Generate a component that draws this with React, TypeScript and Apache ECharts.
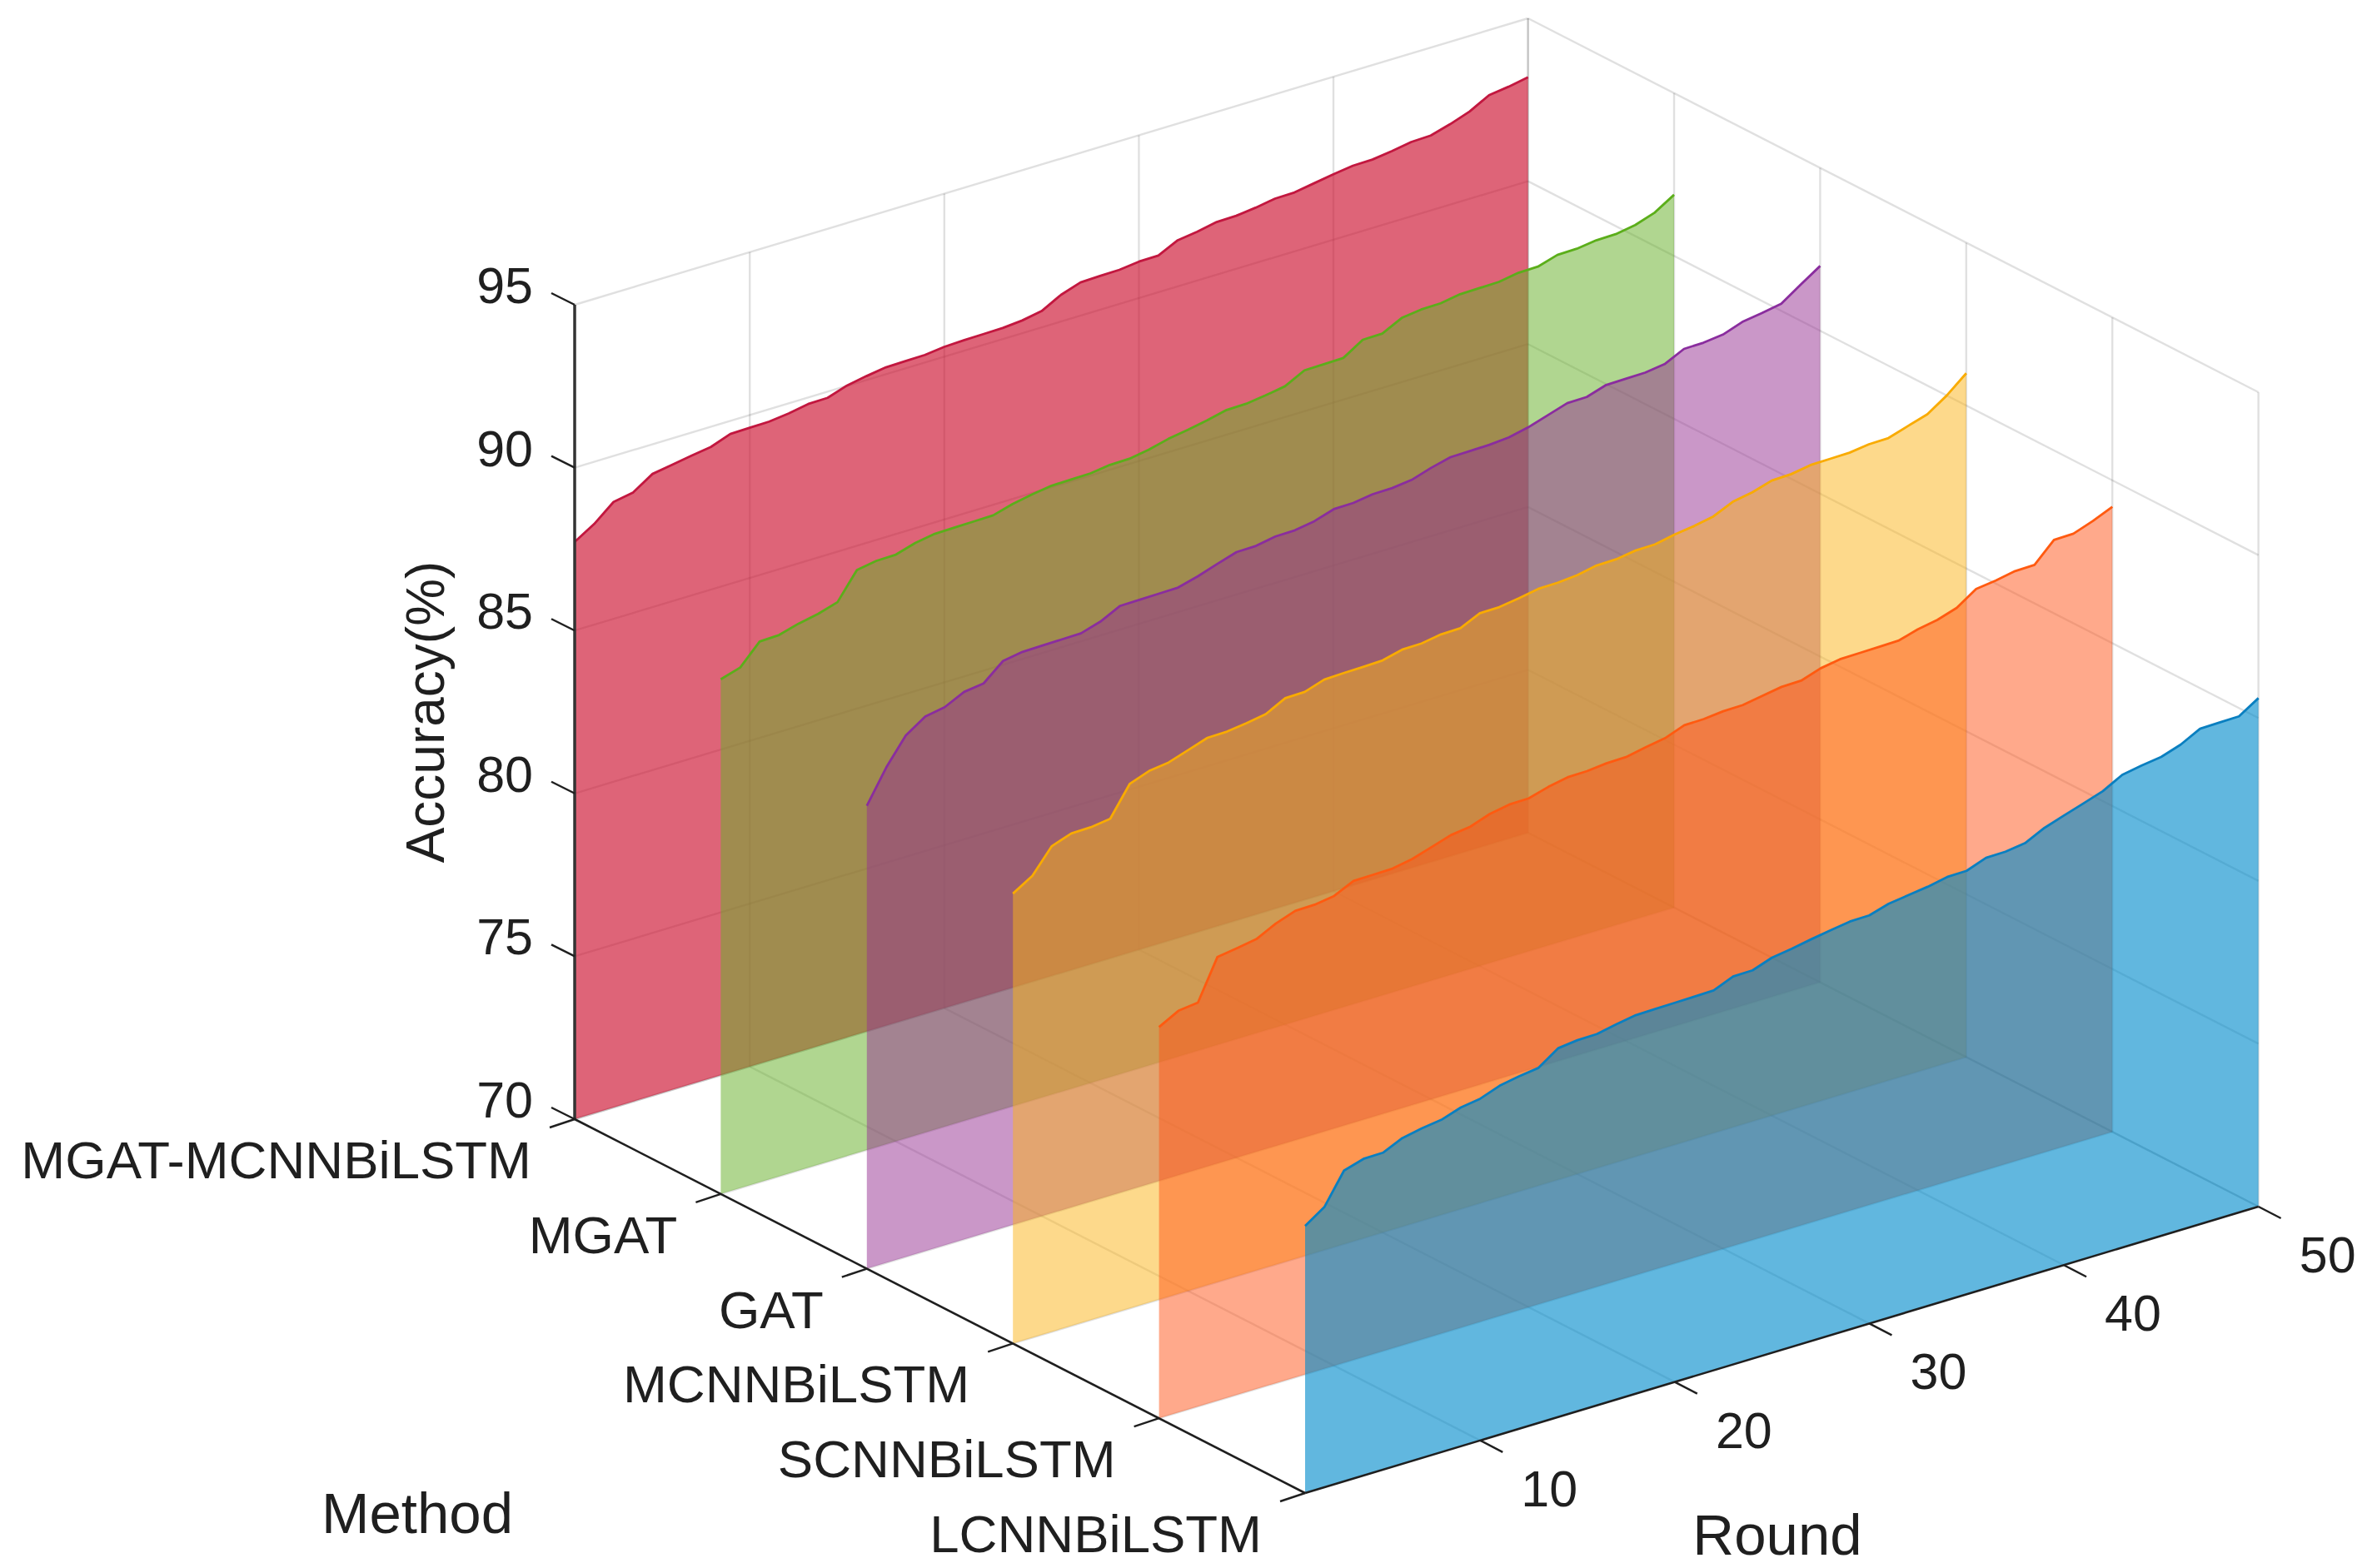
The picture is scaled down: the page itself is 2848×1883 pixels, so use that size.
import React, { useEffect, useRef } from "react";
import * as echarts from "echarts";

const W = 2848;
const H = 1883;

const METHODS = ["MGAT-MCNNBiLSTM", "MGAT", "GAT", "MCNNBiLSTM", "SCNNBiLSTM", "LCNNBiLSTM"];
const ROUND_TICKS = [10, 20, 30, 40, 50];
const ACC_TICKS = [70, 75, 80, 85, 90, 95];
const ROUNDS = Array.from({ length: 50 }, (_, i) => i + 1);

const MGAT_MCNN = [87.72,88.09,88.59,88.70,89.09,89.19,89.29,89.38,89.60,89.61,89.62,89.69,89.80,89.81,90.01,90.12,90.21,90.22,90.23,90.30,90.32,90.33,90.34,90.39,90.50,90.82,91.02,91.04,91.05,91.12,91.13,91.42,91.50,91.62,91.63,91.70,91.80,91.81,91.91,92.01,92.09,92.10,92.18,92.28,92.30,92.47,92.68,93.00,93.08,93.19];
const MGAT = [85.80,85.98,86.60,86.62,86.79,86.91,87.09,87.90,88.00,88.01,88.19,88.29,88.30,88.31,88.32,88.49,88.60,88.69,88.70,88.71,88.79,88.80,88.90,89.05,89.15,89.26,89.40,89.41,89.49,89.59,89.90,89.91,89.92,90.30,90.31,90.61,90.69,90.70,90.80,90.81,90.82,90.92,90.93,91.11,91.12,91.20,91.21,91.31,91.51,91.88];
const GAT = [84.21,85.21,86.01,86.41,86.52,86.81,86.89,87.40,87.50,87.51,87.52,87.53,87.71,88.01,88.02,88.03,88.04,88.20,88.40,88.59,88.60,88.71,88.72,88.82,89.01,89.02,89.11,89.12,89.19,89.38,89.53,89.54,89.55,89.60,89.73,89.92,90.11,90.12,90.31,90.32,90.33,90.41,90.70,90.71,90.78,90.99,91.08,91.19,91.60,91.99];
const MCNN = [83.81,84.18,84.91,85.12,85.13,85.21,86.10,86.32,86.40,86.60,86.80,86.81,86.89,86.99,87.30,87.31,87.51,87.53,87.54,87.56,87.71,87.72,87.82,87.83,88.11,88.12,88.21,88.32,88.33,88.38,88.50,88.51,88.60,88.61,88.73,88.81,88.93,89.20,89.31,89.49,89.51,89.61,89.62,89.63,89.71,89.72,89.91,90.09,90.49,90.99];
const SCNN = [82.01,82.33,82.40,83.62,83.71,83.81,84.11,84.32,84.33,84.42,84.70,84.71,84.72,84.83,85.02,85.21,85.29,85.50,85.61,85.62,85.79,85.91,85.92,85.98,85.99,86.11,86.21,86.43,86.44,86.50,86.51,86.61,86.71,86.72,86.92,87.02,87.03,87.04,87.05,87.22,87.33,87.52,87.92,88.00,88.11,88.12,88.71,88.72,88.93,89.19];
const LCNN = [78.20,78.61,79.54,79.72,79.73,80.00,80.12,80.20,80.40,80.49,80.71,80.82,80.90,81.32,81.39,81.40,81.52,81.62,81.63,81.64,81.65,81.66,81.91,81.92,82.13,82.22,82.33,82.43,82.52,82.53,82.71,82.79,82.87,82.99,83.00,83.22,83.23,83.31,83.60,83.80,83.99,84.19,84.51,84.62,84.70,84.90,85.21,85.22,85.23,85.61];

const SERIES_VALUES = [MGAT_MCNN, MGAT, GAT, MCNN, SCNN, LCNN];
const FILL_COLORS = [
  "rgba(205,17,48,0.65)",
  "rgba(103,176,42,0.52)",
  "rgba(149,47,145,0.5)",
  "rgba(251,179,23,0.5)",
  "rgba(255,83,23,0.5)",
  "rgba(0,138,204,0.62)",
];
const LINE_COLORS = ["#C2173F", "#5BAE1A", "#8A2D9E", "#F9AB00", "#FF5A10", "#0A7FC0"];

const FONT_FAMILY = '"Liberation Sans", Arial, sans-serif';
const INK = "#1f1f1f";
const GRID_LINE = "rgba(38,38,38,0.14)";
const R0 = 1;
const R1 = 50;
const Z0 = 70;
const Z1 = 95;

// Oblique projection of (round, method index, accuracy) onto the page plane.
function project(r: number, m: number, z: number): [number, number] {
  return [
    690 + (r - R0) * 23.36 + m * 175.4,
    1344 - (r - R0) * 7.02 + m * 89.8 - (z - Z0) * 39.12,
  ];
}

type Seg = { a: [number, number, number]; b: [number, number, number] };

function gridSegments(): Seg[] {
  const segs: Seg[] = [];
  const last = METHODS.length - 1;
  ACC_TICKS.forEach((z) => {
    segs.push({ a: [R0, 0, z], b: [R1, 0, z] });
    segs.push({ a: [R1, 0, z], b: [R1, last, z] });
  });
  ROUND_TICKS.forEach((r) => {
    segs.push({ a: [r, 0, Z0], b: [r, 0, Z1] });
    segs.push({ a: [r, 0, Z0], b: [r, last, Z0] });
  });
  METHODS.forEach((_, m) => {
    segs.push({ a: [R1, m, Z0], b: [R1, m, Z1] });
    if (m < last) segs.push({ a: [R0, m, Z0], b: [R1, m, Z0] });
  });
  return segs;
}

function axisSegments(): { pts: [number, number][]; width: number; color: string }[] {
  const last = METHODS.length - 1;
  const out: { pts: [number, number][]; width: number; color: string }[] = [];
  out.push({ pts: [project(R0, 0, Z0), project(R0, 0, Z1)], width: 3.5, color: "#333333" });
  out.push({ pts: [project(R0, 0, Z0), project(R0, last, Z0)], width: 2.6, color: INK });
  out.push({ pts: [project(R0, last, Z0), project(R1, last, Z0)], width: 2.6, color: INK });
  ACC_TICKS.forEach((z) => {
    const p = project(R0, 0, z);
    out.push({ pts: [p, [p[0] - 28, p[1] - 14]], width: 2.4, color: INK });
  });
  METHODS.forEach((_, m) => {
    const p = project(R0, m, Z0);
    out.push({ pts: [p, [p[0] - 30, p[1] + 10]], width: 2.4, color: INK });
  });
  ROUND_TICKS.forEach((r) => {
    const p = project(r, last, Z0);
    out.push({ pts: [p, [p[0] + 27, p[1] + 14]], width: 2.4, color: INK });
  });
  return out;
}

type Label = { text: string; x: number; y: number; size: number; align: string; rotation?: number };

function labels(): Label[] {
  const last = METHODS.length - 1;
  const out: Label[] = [];
  ACC_TICKS.forEach((z) => {
    const p = project(R0, 0, z);
    out.push({ text: String(z), x: p[0] - 50, y: p[1] - 23, size: 61, align: "right" });
  });
  METHODS.forEach((name, m) => {
    const p = project(R0, m, Z0);
    out.push({ text: name, x: p[0] - 52, y: p[1] + 49, size: 63.5, align: "right" });
  });
  ROUND_TICKS.forEach((r) => {
    const p = project(r, last, Z0);
    out.push({ text: String(r), x: p[0] + 83, y: p[1] + 58, size: 61, align: "center" });
  });
  out.push({ text: "Accuracy(%)", x: 511, y: 855, size: 64, align: "center", rotation: Math.PI / 2 });
  out.push({ text: "Method", x: 501, y: 1817, size: 69, align: "center" });
  out.push({ text: "Round", x: 2134, y: 1843, size: 69, align: "center" });
  return out;
}

export default function App() {
  const ref = useRef<HTMLDivElement>(null);
  useEffect(() => {
    document.body.style.margin = "0";
    const chart = echarts.init(ref.current!, undefined, { renderer: "svg", width: W, height: H });
    const grid = gridSegments();
    const axes = axisSegments();
    const texts = labels();

    const series: any[] = [];
    series.push({
      type: "custom",
      coordinateSystem: "cartesian2d",
      silent: true,
      clip: false,
      z: 1,
      data: grid.map((_, i) => [i]),
      renderItem: (params: any, api: any) => {
        const s = grid[params.dataIndex];
        const p = api.coord(project(s.a[0], s.a[1], s.a[2]));
        const q = api.coord(project(s.b[0], s.b[1], s.b[2]));
        return {
          type: "line",
          shape: { x1: p[0], y1: p[1], x2: q[0], y2: q[1] },
          style: { stroke: GRID_LINE, lineWidth: 2.4, fill: "none" },
        };
      },
    });

    SERIES_VALUES.forEach((values, m) => {
      series.push({
        type: "custom",
        name: METHODS[m],
        coordinateSystem: "cartesian2d",
        silent: true,
        clip: false,
        z: 2 + m,
        data: values.map((v, i) => [ROUNDS[i], m, v]),
        renderItem: (params: any, api: any) => {
          if (params.dataIndex !== 0) return null;
          const top = values.map((v, i) => api.coord(project(ROUNDS[i], m, v)));
          const bottom = [
            api.coord(project(ROUNDS[ROUNDS.length - 1], m, Z0)),
            api.coord(project(ROUNDS[0], m, Z0)),
          ];
          return {
            type: "group",
            children: [
              {
                type: "polygon",
                shape: { points: [...top, ...bottom] },
                style: { fill: FILL_COLORS[m], stroke: "none" },
              },
              {
                type: "polyline",
                shape: { points: top },
                style: { stroke: LINE_COLORS[m], lineWidth: 2.8, fill: "none", lineJoin: "round" },
              },
            ],
          };
        },
      });
    });

    series.push({
      type: "custom",
      coordinateSystem: "cartesian2d",
      silent: true,
      clip: false,
      z: 20,
      data: axes.map((_, i) => [i]),
      renderItem: (params: any, api: any) => {
        const s = axes[params.dataIndex];
        const p = api.coord(s.pts[0]);
        const q = api.coord(s.pts[1]);
        return {
          type: "line",
          shape: { x1: p[0], y1: p[1], x2: q[0], y2: q[1] },
          style: { stroke: s.color, lineWidth: s.width, fill: "none" },
        };
      },
    });

    series.push({
      type: "custom",
      coordinateSystem: "cartesian2d",
      silent: true,
      clip: false,
      z: 21,
      data: texts.map((_, i) => [i]),
      renderItem: (params: any, api: any) => {
        const t = texts[params.dataIndex];
        const c = api.coord([t.x, t.y]);
        return {
          type: "text",
          x: c[0],
          y: c[1],
          rotation: t.rotation ?? 0,
          style: {
            text: t.text,
            x: 0,
            y: 0,
            fill: INK,
            font: `${t.size}px ${FONT_FAMILY}`,
            textAlign: t.align,
            textVerticalAlign: "middle",
          },
        };
      },
    });

    chart.setOption({
      animation: false,
      backgroundColor: "#ffffff",
      grid: { left: 0, right: 0, top: 0, bottom: 0, containLabel: false },
      xAxis: { type: "value", min: 0, max: W, show: false },
      yAxis: { type: "value", min: 0, max: H, inverse: true, show: false },
      series,
    });
    return () => chart.dispose();
  }, []);
  return <div ref={ref} style={{ position: "absolute", left: 0, top: 0, width: W, height: H }} />;
}
